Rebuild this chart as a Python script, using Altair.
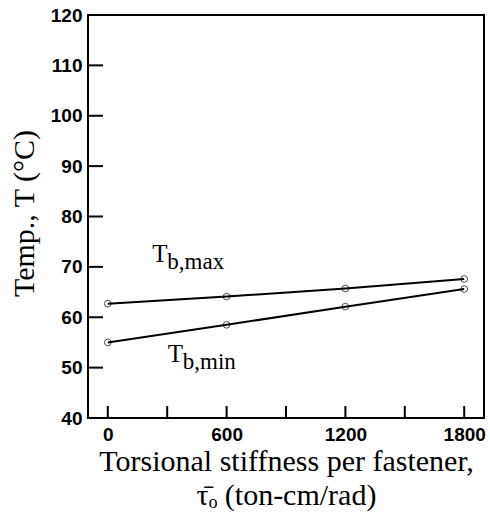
import altair as alt
import pandas as pd

# data
stiffness = [0, 600, 1200, 1800]
t_max = [62.7, 64.1, 65.7, 67.6]
t_min = [55.0, 58.5, 62.1, 65.6]

x_tick_vals = [0, 300, 600, 900, 1200, 1500, 1800]
x_label_vals = [0, 600, 1200, 1800]
y_tick_vals = [50, 60, 70, 80, 90, 100, 110]
y_label_vals = [40, 50, 60, 70, 80, 90, 100, 110, 120]

label_names = ["max", "min"]
label_x = [225, 303]
label_y = [71.0, 51.2]
label_sub = ["b,max", "b,min"]

rows = []
for s, a, b in zip(stiffness, t_max, t_min):
    rows.append({"x": s, "T": a, "series": "max"})
    rows.append({"x": s, "T": b, "series": "min"})
df = pd.DataFrame(rows)

xs = alt.Scale(domain=[-100, 1900], nice=False, zero=False)
ys = alt.Scale(domain=[40, 120], nice=False, zero=False)

LABEL_FONT = "Liberation Sans"
SERIF = "Liberation Serif"

x_axis = alt.Axis(
    values=x_label_vals, format="d", ticks=False, domain=False, grid=False,
    labelFont=LABEL_FONT, labelFontWeight="bold", labelFontSize=19, labelColor="#000000",
    labelPadding=7,
    title=["Torsional stiffness per fastener,", "\u03c4\u0304\u2092 (ton-cm/rad)"],
    titleFont=SERIF, titleFontSize=30, titleFontWeight="normal", titleColor="#000000",
    titlePadding=2, titleLineHeight=34,
)
y_axis = alt.Axis(
    values=y_label_vals, format="d", ticks=False, domain=False, grid=False,
    labelFont=LABEL_FONT, labelFontWeight="bold", labelFontSize=19, labelColor="#000000",
    labelPadding=6,
    title="Temp., T (\u00b0C)", titleFont=SERIF, titleFontSize=30, titleFontWeight="normal",
    titleColor="#000000", titleX=-64, titleY=198, titleAngle=-90, titleAlign="center",
    titleBaseline="middle",
)

base = alt.Chart(df)
lines = base.mark_line(color="black", strokeWidth=2).encode(
    x=alt.X("x:Q", scale=xs, axis=x_axis),
    y=alt.Y("T:Q", scale=ys, axis=y_axis),
    detail="series:N",
)
points = base.mark_point(shape="circle", filled=False, color="black", size=45, strokeWidth=1).encode(
    x=alt.X("x:Q", scale=xs),
    y=alt.Y("T:Q", scale=ys),
)

xt = pd.DataFrame({"v": x_tick_vals})
x_ticks = alt.Chart(xt).mark_rule(color="black", strokeWidth=2).encode(
    x=alt.X("v:Q", scale=xs),
    y=alt.value(403), y2=alt.value(391),
)
yt = pd.DataFrame({"v": y_tick_vals})
y_ticks = alt.Chart(yt).mark_rule(color="black", strokeWidth=2).encode(
    y=alt.Y("v:Q", scale=ys),
    x=alt.value(0), x2=alt.value(15),
)

lab = pd.DataFrame({"name": label_names, "x": label_x, "y": label_y, "sub": label_sub})
t_text = alt.Chart(lab).mark_text(
    text="T", font=SERIF, fontSize=25, align="left", baseline="alphabetic", color="black"
).encode(x=alt.X("x:Q", scale=xs), y=alt.Y("y:Q", scale=ys))
sub_text = alt.Chart(lab).mark_text(
    font=SERIF, fontSize=23, align="left", baseline="alphabetic", color="black", dx=15, dy=7
).encode(x=alt.X("x:Q", scale=xs), y=alt.Y("y:Q", scale=ys), text="sub:N")

chart = alt.layer(lines, points, x_ticks, y_ticks, t_text, sub_text).properties(
    width=396, height=403,
    autosize=alt.AutoSizeParams(type="none"),
    padding={"left": 88, "top": 15, "right": 6, "bottom": 104},
    background="white",
).configure_view(stroke="black", strokeWidth=2)

chart.save("out.html", embed_options={"renderer": "svg", "actions": False})
